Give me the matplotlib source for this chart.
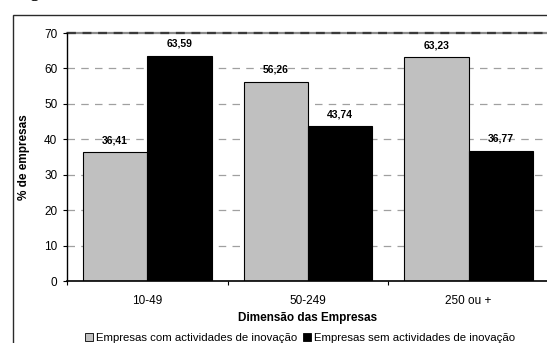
import matplotlib
matplotlib.use("Agg")
import matplotlib.pyplot as plt
from matplotlib.patches import Rectangle, Patch
import numpy as np

categories = ["10-49", "50-249", "250 ou +"]
com_inovacao = [36.41, 56.26, 63.23]
sem_inovacao = [63.59, 43.74, 36.77]
series_labels = ["Empresas com actividades de inovação",
                 "Empresas sem actividades de inovação"]
y_ticks = [0, 10, 20, 30, 40, 50, 60, 70]

plt.rcParams['font.family'] = ['Liberation Sans', 'DejaVu Sans']

W, H = 547, 343
fig = plt.figure(figsize=(W / 100, H / 100), dpi=100)

# outer chart frame
fig.patches.append(Rectangle((13 / W, -0.2), 1.0, 1.2 - 15 / H,
                             transform=fig.transFigure, fill=False,
                             edgecolor='#2a2a2a', linewidth=1.0, zorder=0))

# caption above the frame (only its lowest part falls inside the canvas)
fig.text(17 / W, 1 + 3 / H, "Figura", fontfamily='Liberation Serif',
         fontweight='bold', fontsize=12, va='baseline', ha='left')

ax = fig.add_axes([67 / W, 1 - 281 / H, (549 - 67) / W, (281 - 33) / H])
ax.set_xlim(-0.5, 2.5)
ax.set_ylim(0, 70)

x = np.arange(len(categories))
bw = 0.4
for yv in y_ticks[1:-1]:
    ax.axhline(yv, color='#a0a0a0', linewidth=0.9, dashes=(6, 5), zorder=1)
ax.axhline(70, color='#8a8a8a', linewidth=1.6, zorder=1, clip_on=False)
ax.axhline(70, color='#3a3a3a', linewidth=1.6, dashes=(4, 3), zorder=1.1,
           clip_on=False)

ax.bar(x - bw / 2, com_inovacao, bw, color='#c0c0c0', edgecolor='black',
       linewidth=0.8, zorder=2)
ax.bar(x + bw / 2, sem_inovacao, bw, color='black', edgecolor='black',
       linewidth=0.8, zorder=2)

for xs, vals in ((x - bw / 2, com_inovacao), (x + bw / 2, sem_inovacao)):
    for xi, v in zip(xs, vals):
        ax.annotate(f"{v:.2f}".replace('.', ','), xy=(xi, v), xytext=(0, 5),
                    textcoords='offset points', ha='center', va='bottom',
                    fontsize=7.5, fontweight='bold')

for s in ('top', 'right'):
    ax.spines[s].set_visible(False)
ax.spines['left'].set_linewidth(1.0)
ax.spines['bottom'].set_linewidth(1.2)

ax.set_yticks(y_ticks)
ax.set_yticklabels([str(t) for t in y_ticks], fontsize=8.5)
ax.tick_params(axis='y', direction='out', length=3, width=0.8, pad=4)

ax.set_xticks(x)
ax.set_xticklabels(categories, fontsize=8.5)
ax.set_xticks([-0.5, 0.5, 1.5], minor=True)
ax.tick_params(axis='x', which='major', length=0, pad=10)
ax.tick_params(axis='x', which='minor', direction='out', length=3, width=0.8)

fig.text(308 / W, 1 - 318 / H, "Dimensão das Empresas", ha='center',
         va='center', fontsize=8.5, fontweight='bold')
fig.text(24 / W, 1 - 157 / H, "% de empresas", rotation=90, ha='center',
         va='center', fontsize=8.5, fontweight='bold')

handles = [Patch(facecolor='#c0c0c0', edgecolor='black', linewidth=0.6),
           Patch(facecolor='black', edgecolor='black', linewidth=0.6)]
fig.legend(handles, series_labels, loc='center', ncol=2,
           bbox_to_anchor=(300 / W, 1 - 338 / H), frameon=False,
           fontsize=8.2, handlelength=0.7, handleheight=0.7,
           handletextpad=0.3, columnspacing=0.5, borderpad=0)

fig.savefig("out.png", dpi=100)
